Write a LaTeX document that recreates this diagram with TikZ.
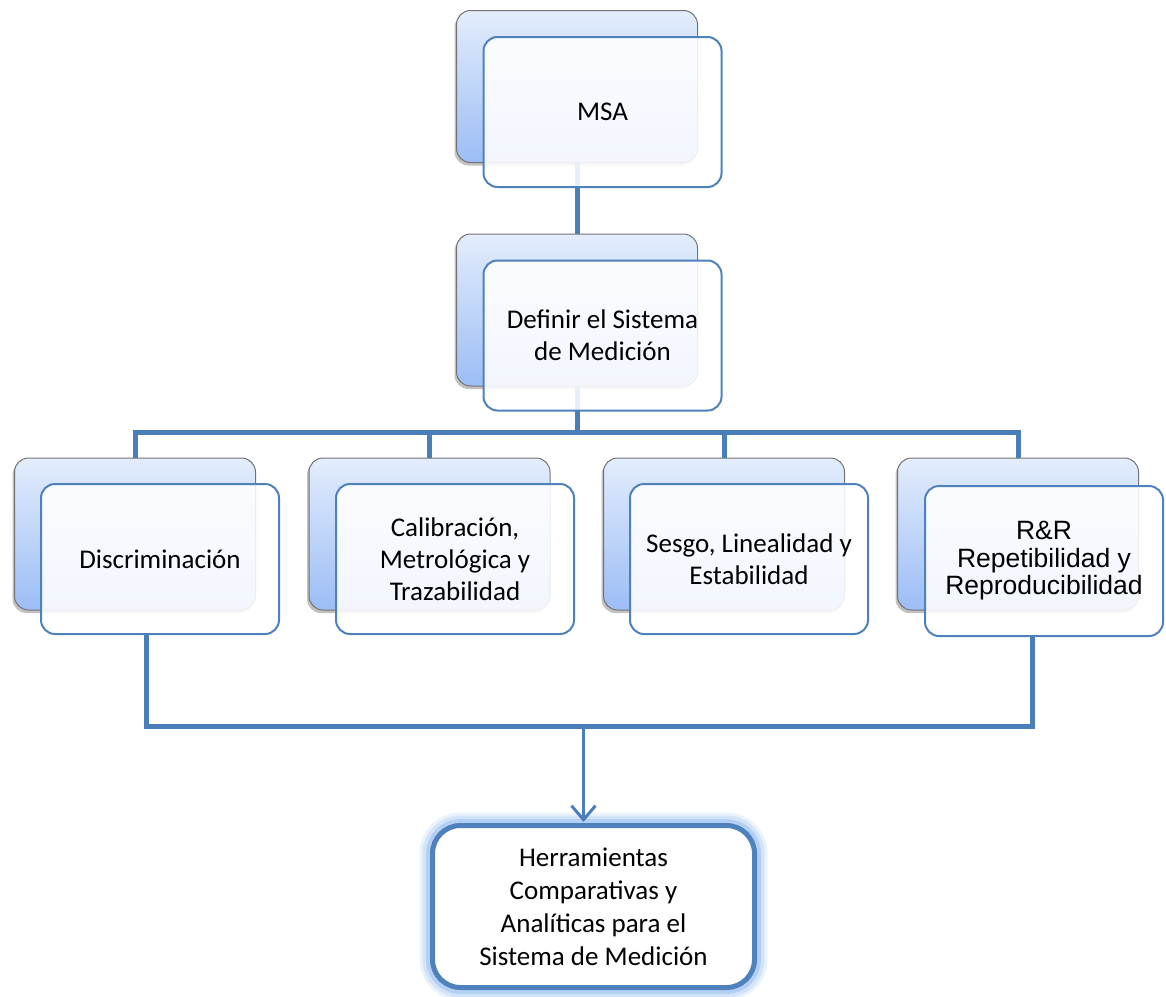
\documentclass[tikz,border=0pt]{standalone}
\usepackage{fontspec}
\setmainfont{Carlito}
\newfontfamily\arialfont{Liberation Sans}
\usetikzlibrary{shadows,arrows.meta}

\definecolor{linkc}{HTML}{4A7EBB}
\definecolor{framec}{HTML}{4F81BD}
\definecolor{backtop}{HTML}{E3EDFC}
\definecolor{backbot}{HTML}{9CBDF6}
\definecolor{glowc}{HTML}{8DB8EE}

\tikzset{
  backbox/.style={draw=black!55, line width=1pt, rounded corners=14pt,
    top color=backtop, bottom color=backbot,
    minimum width=241pt, minimum height=152pt, inner sep=0pt,
    drop shadow={shadow xshift=-2pt, shadow yshift=-3pt, opacity=0.35, fill=black!70}},
  frontbox/.style={draw=framec, line width=2pt, rounded corners=14pt,
    fill=white, fill opacity=0.88, text opacity=1,
    minimum width=238pt, minimum height=150pt, inner sep=0pt,
    align=center, font=\fontsize{27}{32}\selectfont},
  linkline/.style={draw=linkc, line width=5pt},
  finalbox/.style={draw=framec, line width=5pt, rounded corners=28pt, fill=white,
    minimum width=322pt, minimum height=162pt, inner sep=0pt,
    align=center, font=\fontsize{27}{33}\selectfont,
    preaction={draw=glowc, line width=26pt, draw opacity=0.18},
    preaction={draw=glowc, line width=20pt, draw opacity=0.25},
    preaction={draw=glowc, line width=13pt, draw opacity=0.45}},
}

\begin{document}
\begin{tikzpicture}[x=1pt, y=-1pt]
  \useasboundingbox (0,0) rectangle (1166,996);

  % back plates (gradient) of the stacked blocks
  \node[backbox] (mb)  at (577,86.5) {};
  \node[backbox] (db)  at (577,310) {};
  \node[backbox] (d1b) at (135,534) {};
  \node[backbox] (d2b) at (429.5,534) {};
  \node[backbox] (d3b) at (724,534) {};
  \node[backbox] (d4b) at (1018,534) {};

  % tree connectors running behind the translucent front plates
  \coordinate (bus) at (0,432);
  \draw[linkline] (mb.south) -- (db.north);
  \draw[linkline] (db.south) -- (db.south |- bus);
  \draw[linkline] (d1b.north) -- (d1b.north |- bus) -- (d4b.north |- bus) -- (d4b.north);
  \draw[linkline] (d2b.north) -- (d2b.north |- bus);
  \draw[linkline] (d3b.north) -- (d3b.north |- bus);

  % front plates with the texts
  \node[frontbox] (mf)  at (602.5,112) {MSA};
  \node[frontbox] (df)  at (602.5,335.5) {Definir el Sistema\\de Medición};
  \node[frontbox] (d1f) at (160,559) {Discriminación};
  \node[frontbox] (d2f) at (455,559) {Calibración,\\Metrológica y\\Trazabilidad};
  \node[frontbox] (d3f) at (749,559) {Sesgo, Linealidad y\\Estabilidad};
  \node[frontbox, font=\arialfont\fontsize{26.5}{27.5}\selectfont] (d4f) at (1044,561)
    {R\&R\\Repetibilidad y\\Reproducibilidad};

  % result block
  \node[finalbox] (fin) at (593.5,906.5)
    {Herramientas\\Comparativas y\\Analíticas para el\\Sistema de Medición};

  % collecting line and arrow into the result block
  \coordinate (join) at (0,726);
  \draw[linkline] ([xshift=-14pt]d1f.south) -- ([xshift=-14pt]d1f.south |- join)
    -- ([xshift=-12pt]d4f.south |- join) -- ([xshift=-12pt]d4f.south);
  \draw[draw=linkc, line width=3pt, -{Straight Barb[length=14pt, width=24pt]}]
    ([xshift=-10pt]fin.north |- join) -- ([xshift=-10pt, yshift=1pt]fin.north);
\end{tikzpicture}
\end{document}
